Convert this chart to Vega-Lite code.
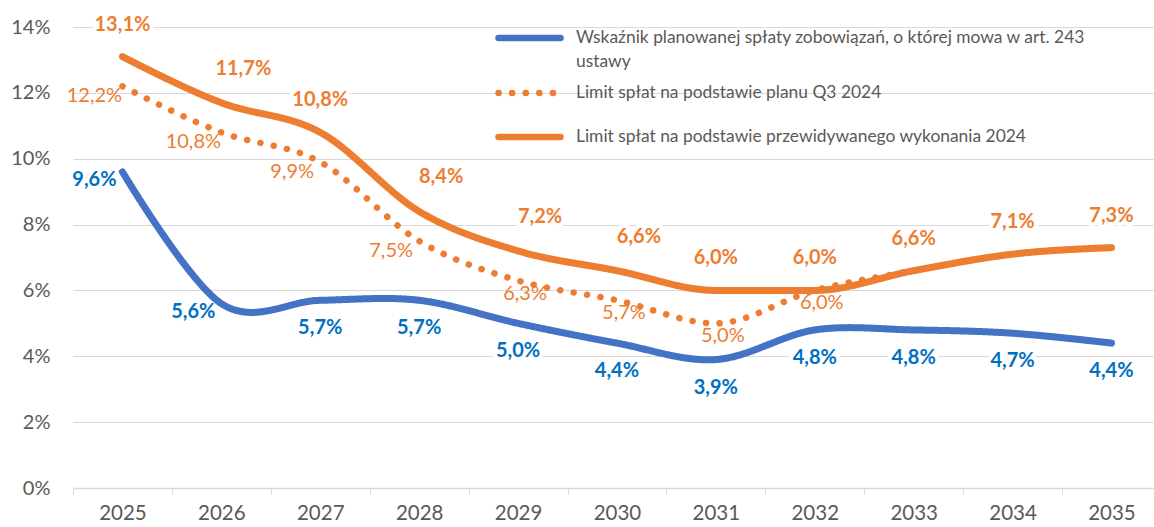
{
  "$schema": "https://vega.github.io/schema/vega-lite/v6.json",
  "width": 1081,
  "height": 461,
  "autosize": "none",
  "padding": {"left": 73, "top": 27, "right": 0, "bottom": 39},
  "config": {
    "view": {"stroke": null},
    "font": "Lato",
    "locale": {"number": {"decimal": ",", "thousands": "\u00a0", "grouping": [3], "currency": ["", " zł"]}}
  },
  "data": {
    "values": [
      {"year": 2025, "series": "Wskaźnik planowanej spłaty zobowiązań, o której mowa w art. 243 ustawy", "value": 0.096},
      {"year": 2026, "series": "Wskaźnik planowanej spłaty zobowiązań, o której mowa w art. 243 ustawy", "value": 0.056},
      {"year": 2027, "series": "Wskaźnik planowanej spłaty zobowiązań, o której mowa w art. 243 ustawy", "value": 0.057},
      {"year": 2028, "series": "Wskaźnik planowanej spłaty zobowiązań, o której mowa w art. 243 ustawy", "value": 0.057},
      {"year": 2029, "series": "Wskaźnik planowanej spłaty zobowiązań, o której mowa w art. 243 ustawy", "value": 0.050},
      {"year": 2030, "series": "Wskaźnik planowanej spłaty zobowiązań, o której mowa w art. 243 ustawy", "value": 0.044},
      {"year": 2031, "series": "Wskaźnik planowanej spłaty zobowiązań, o której mowa w art. 243 ustawy", "value": 0.039},
      {"year": 2032, "series": "Wskaźnik planowanej spłaty zobowiązań, o której mowa w art. 243 ustawy", "value": 0.048},
      {"year": 2033, "series": "Wskaźnik planowanej spłaty zobowiązań, o której mowa w art. 243 ustawy", "value": 0.048},
      {"year": 2034, "series": "Wskaźnik planowanej spłaty zobowiązań, o której mowa w art. 243 ustawy", "value": 0.047},
      {"year": 2035, "series": "Wskaźnik planowanej spłaty zobowiązań, o której mowa w art. 243 ustawy", "value": 0.044},
      {"year": 2025, "series": "Limit spłat na podstawie planu Q3 2024", "value": 0.122},
      {"year": 2026, "series": "Limit spłat na podstawie planu Q3 2024", "value": 0.108},
      {"year": 2027, "series": "Limit spłat na podstawie planu Q3 2024", "value": 0.099},
      {"year": 2028, "series": "Limit spłat na podstawie planu Q3 2024", "value": 0.075},
      {"year": 2029, "series": "Limit spłat na podstawie planu Q3 2024", "value": 0.063},
      {"year": 2030, "series": "Limit spłat na podstawie planu Q3 2024", "value": 0.057},
      {"year": 2031, "series": "Limit spłat na podstawie planu Q3 2024", "value": 0.050},
      {"year": 2032, "series": "Limit spłat na podstawie planu Q3 2024", "value": 0.060},
      {"year": 2033, "series": "Limit spłat na podstawie planu Q3 2024", "value": 0.066},
      {"year": 2034, "series": "Limit spłat na podstawie planu Q3 2024", "value": 0.071},
      {"year": 2035, "series": "Limit spłat na podstawie planu Q3 2024", "value": 0.073},
      {"year": 2025, "series": "Limit spłat na podstawie przewidywanego wykonania 2024", "value": 0.131},
      {"year": 2026, "series": "Limit spłat na podstawie przewidywanego wykonania 2024", "value": 0.117},
      {"year": 2027, "series": "Limit spłat na podstawie przewidywanego wykonania 2024", "value": 0.108},
      {"year": 2028, "series": "Limit spłat na podstawie przewidywanego wykonania 2024", "value": 0.084},
      {"year": 2029, "series": "Limit spłat na podstawie przewidywanego wykonania 2024", "value": 0.072},
      {"year": 2030, "series": "Limit spłat na podstawie przewidywanego wykonania 2024", "value": 0.066},
      {"year": 2031, "series": "Limit spłat na podstawie przewidywanego wykonania 2024", "value": 0.060},
      {"year": 2032, "series": "Limit spłat na podstawie przewidywanego wykonania 2024", "value": 0.060},
      {"year": 2033, "series": "Limit spłat na podstawie przewidywanego wykonania 2024", "value": 0.066},
      {"year": 2034, "series": "Limit spłat na podstawie przewidywanego wykonania 2024", "value": 0.071},
      {"year": 2035, "series": "Limit spłat na podstawie przewidywanego wykonania 2024", "value": 0.073}
    ]
  },
  "encoding": {
    "x": {
      "field": "year", "type": "quantitative",
      "scale": {"domain": [2024.5, 2035.43], "nice": false, "zero": false},
      "axis": {
        "title": null, "values": [2025, 2026, 2027, 2028, 2029, 2030, 2031, 2032, 2033, 2034, 2035],
        "format": "d", "grid": false, "tickOffset": -49.45, "labelOffset": 49.45,
        "domainColor": "#d9d9d9", "tickColor": "#d9d9d9", "tickSize": 6, "domainWidth": 1.3,
        "labelFontSize": 20.5, "labelColor": "#595959", "labelPadding": 9,
        "labelFlush": false, "labelOverlap": false, "labelBound": false
      }
    },
    "y": {
      "field": "value", "type": "quantitative",
      "scale": {"domain": [0, 0.14], "nice": false},
      "axis": {
        "title": null, "values": [0, 0.02, 0.04, 0.06, 0.08, 0.1, 0.12, 0.14], "format": ".0%",
        "grid": true, "gridColor": "#d9d9d9", "gridWidth": 1.2, "domain": false, "ticks": false,
        "labelPadding": 23, "labelFontSize": 20, "labelColor": "#595959"
      }
    }
  },
  "layer": [
    {
      "transform": [{"filter": "datum.series == 'Limit spłat na podstawie planu Q3 2024'"}],
      "mark": {"type": "line", "interpolate": "monotone", "strokeWidth": 6.5, "strokeCap": "round"},
      "encoding": {
        "color": {
          "field": "series", "type": "nominal",
          "scale": {
            "domain": ["Wskaźnik planowanej spłaty zobowiązań, o której mowa w art. 243 ustawy", "Limit spłat na podstawie planu Q3 2024", "Limit spłat na podstawie przewidywanego wykonania 2024"],
            "range": ["#4472C4", "#ED7D31", "#ED7D31"]
          },
          "legend": {
            "orient": "none", "legendX": 422, "legendY": -11, "title": null,
            "symbolType": "stroke", "symbolSize": 3844, "symbolStrokeWidth": 6.5,
            "labelFont": "Lato", "labelFontSize": 17.4, "labelColor": "#595959",
            "labelLimit": 700, "labelOffset": 12, "rowPadding": 0, "clipHeight": 44,
            "labelExpr": "datum.label == 'Wskaźnik planowanej spłaty zobowiązań, o której mowa w art. 243 ustawy' ? ['Wskaźnik planowanej spłaty zobowiązań, o której mowa w art. 243', 'ustawy'] : datum.label",
            "encode": {
              "symbols": {"update": {"strokeCap": {"value": "round"}}},
              "labels": {"update": {"lineHeight": {"value": 24}}},
              "entries": {"update": {"clip": {"value": false}}}
            }
          }
        },
        "strokeDash": {
          "field": "series", "type": "nominal",
          "scale": {
            "domain": ["Wskaźnik planowanej spłaty zobowiązań, o której mowa w art. 243 ustawy", "Limit spłat na podstawie planu Q3 2024", "Limit spłat na podstawie przewidywanego wykonania 2024"],
            "range": [[1, 0], [0.1, 13.5], [1, 0]]
          }
        }
      }
    },
    {
      "transform": [{"filter": "datum.series == 'Limit spłat na podstawie przewidywanego wykonania 2024'"}],
      "mark": {"type": "line", "interpolate": "monotone", "strokeWidth": 7, "strokeCap": "round"},
      "encoding": {
        "color": {"field": "series", "type": "nominal"},
        "strokeDash": {"field": "series", "type": "nominal"}
      }
    },
    {
      "transform": [{"filter": "datum.series == 'Wskaźnik planowanej spłaty zobowiązań, o której mowa w art. 243 ustawy'"}],
      "mark": {"type": "line", "interpolate": "cardinal", "strokeWidth": 7, "strokeCap": "round"},
      "encoding": {
        "color": {"field": "series", "type": "nominal"},
        "strokeDash": {"field": "series", "type": "nominal"}
      }
    },
    {
      "transform": [{"filter": "datum.series == 'Limit spłat na podstawie planu Q3 2024' && datum.year <= 2028"}],
      "mark": {"type": "text", "fontSize": 20, "color": "#ED7D31", "dx": -28, "dy": 10},
      "encoding": {"text": {"field": "value", "type": "quantitative", "format": ".1%"}}
    },
    {
      "transform": [{"filter": "datum.series == 'Limit spłat na podstawie planu Q3 2024' && datum.year > 2028 && datum.year <= 2032"}],
      "mark": {"type": "text", "fontSize": 20, "color": "#ED7D31", "dx": 7, "dy": 13},
      "encoding": {"text": {"field": "value", "type": "quantitative", "format": ".1%"}}
    },
    {
      "transform": [{"filter": "datum.series == 'Limit spłat na podstawie przewidywanego wykonania 2024' && (datum.year == 2026 || (datum.year >= 2028 && datum.year <= 2030))"}],
      "mark": {"type": "text", "fontSize": 20, "fontWeight": "bold", "stroke": "white", "strokeWidth": 8, "strokeJoin": "round", "dx": 22, "dy": -34},
      "encoding": {"text": {"field": "value", "type": "quantitative", "format": ".1%"}}
    },
    {
      "transform": [{"filter": "datum.series == 'Limit spłat na podstawie przewidywanego wykonania 2024' && (datum.year == 2026 || (datum.year >= 2028 && datum.year <= 2030))"}],
      "mark": {"type": "text", "fontSize": 20, "fontWeight": "bold", "color": "#ED7D31", "dx": 22, "dy": -34},
      "encoding": {"text": {"field": "value", "type": "quantitative", "format": ".1%"}}
    },
    {
      "transform": [{"filter": "datum.series == 'Limit spłat na podstawie przewidywanego wykonania 2024' && !(datum.year == 2026 || (datum.year >= 2028 && datum.year <= 2030))"}],
      "mark": {"type": "text", "fontSize": 20, "fontWeight": "bold", "stroke": "white", "strokeWidth": 8, "strokeJoin": "round", "dy": -32},
      "encoding": {"text": {"field": "value", "type": "quantitative", "format": ".1%"}}
    },
    {
      "transform": [{"filter": "datum.series == 'Limit spłat na podstawie przewidywanego wykonania 2024' && !(datum.year == 2026 || (datum.year >= 2028 && datum.year <= 2030))"}],
      "mark": {"type": "text", "fontSize": 20, "fontWeight": "bold", "color": "#ED7D31", "dy": -32},
      "encoding": {"text": {"field": "value", "type": "quantitative", "format": ".1%"}}
    },
    {
      "transform": [{"filter": "datum.series == 'Wskaźnik planowanej spłaty zobowiązań, o której mowa w art. 243 ustawy' && datum.year <= 2026"}],
      "mark": {"type": "text", "fontSize": 20, "fontWeight": "bold", "color": "#0070C0", "dx": -28, "dy": 8},
      "encoding": {"text": {"field": "value", "type": "quantitative", "format": ".1%"}}
    },
    {
      "transform": [{"filter": "datum.series == 'Wskaźnik planowanej spłaty zobowiązań, o której mowa w art. 243 ustawy' && datum.year > 2026"}],
      "mark": {"type": "text", "fontSize": 20, "fontWeight": "bold", "stroke": "white", "strokeWidth": 8, "strokeJoin": "round", "dy": 28},
      "encoding": {"text": {"field": "value", "type": "quantitative", "format": ".1%"}}
    },
    {
      "transform": [{"filter": "datum.series == 'Wskaźnik planowanej spłaty zobowiązań, o której mowa w art. 243 ustawy' && datum.year > 2026"}],
      "mark": {"type": "text", "fontSize": 20, "fontWeight": "bold", "color": "#0070C0", "dy": 28},
      "encoding": {"text": {"field": "value", "type": "quantitative", "format": ".1%"}}
    }
  ]
}
